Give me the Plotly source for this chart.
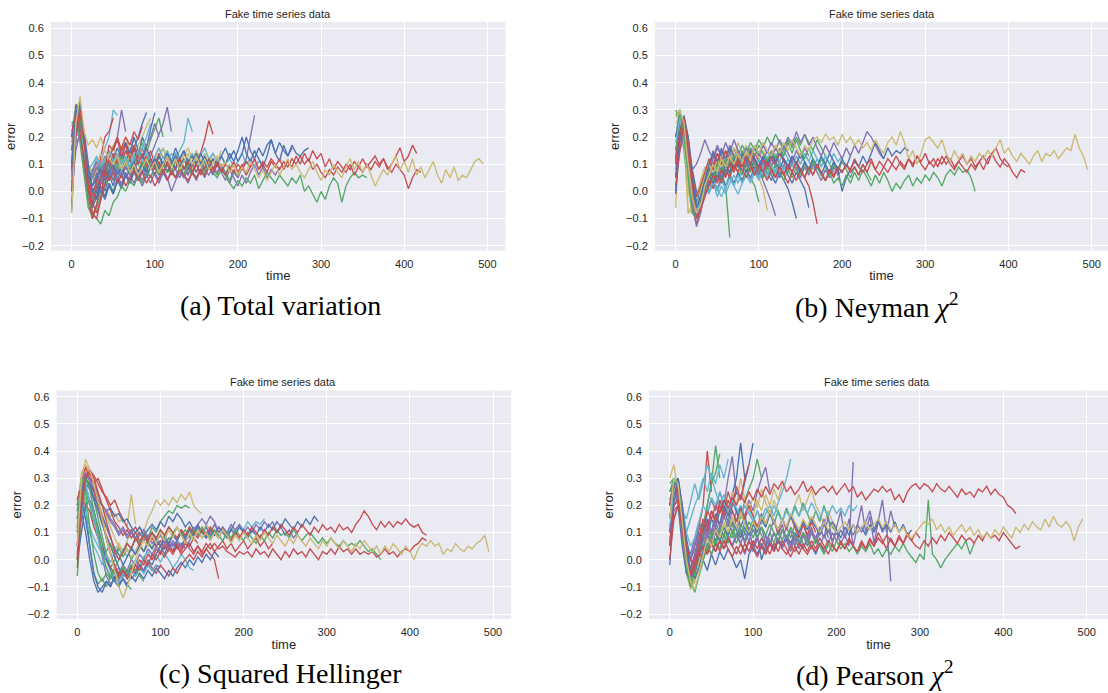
import plotly.graph_objects as go

STEP = 5  # time units between consecutive samples
PALETTE = {"b": "#4C72B0", "g": "#55A868", "r": "#C44E52",
           "p": "#8172B2", "y": "#CCB974", "c": "#64B5CD"}

TITLE = "Fake time series data"
X_LABEL = "time"
Y_LABEL = "error"
CAPTIONS = ["(a) Total variation", "(b) Neyman <i>χ</i><sup>2</sup>",
            "(c) Squared Hellinger", "(d) Pearson <i>χ</i><sup>2</sup>"]
X_TICKS = [0, 100, 200, 300, 400, 500]
Y_TICKS = [-0.2, -0.1, 0.0, 0.1, 0.2, 0.3, 0.4, 0.5, 0.6]

# ---------------- panel (a) Total variation ----------------
a01 = [-0.07, 0.22, 0.33, 0.2, 0.05, 0.0, 0.03, 0.08, 0.05, 0.11, 0.09, 0.14, 0.1, 0.15, 0.12, 0.17, 0.13, 0.2, 0.16, 0.23, 0.29]
a02 = [0.25, 0.27, 0.2, 0.1, 0.0, -0.08, -0.1, -0.12, -0.07, -0.09, -0.04, -0.02, 0.02, 0.0, 0.04, 0.02, 0.06, 0.03, 0.07, 0.05, 0.09, 0.06, 0.1, 0.07, 0.08, 0.05, 0.09, 0.06, 0.1, 0.07, 0.05, 0.08, 0.06, 0.09, 0.07, 0.05, 0.08, 0.06, 0.03, 0.01, 0.04, 0.02, 0.05, 0.03, 0.06, 0.01, 0.04, 0.07, 0.05, 0.03, 0.06, 0.04, 0.02, 0.05, 0.03, 0.06, 0.0, 0.02, -0.01, -0.04, 0.0, -0.03, 0.02, 0.05, 0.03, -0.04, 0.02, 0.05, 0.07, 0.05, 0.06, 0.05]
a03 = [0.0, 0.2, 0.3, 0.18, 0.02, -0.08, -0.1, -0.03, 0.08, 0.17, 0.15, 0.19, 0.13, 0.17, 0.12, 0.16, 0.1, 0.14, 0.09, 0.12, 0.08, 0.11, 0.07, 0.1, 0.06, 0.09, 0.12, 0.08, 0.11, 0.07, 0.1, 0.06, 0.09, 0.12, 0.08, 0.11, 0.07, 0.1, 0.08, 0.11, 0.07, 0.1, 0.06, 0.09, 0.12, 0.08, 0.1, 0.07, 0.11, 0.09, 0.12, 0.08, 0.11, 0.09, 0.13, 0.1, 0.14, 0.11, 0.15, 0.12, 0.14, 0.09, 0.12, 0.08, 0.11, 0.09, 0.07, 0.1, 0.06, 0.09, 0.07, 0.1, 0.08, 0.11, 0.09, 0.12, 0.08, 0.1, 0.13, 0.16, 0.11, 0.13, 0.17, 0.14]
a04 = [-0.08, 0.25, 0.35, 0.22, 0.17, 0.19, 0.16, 0.2, 0.15, 0.12, 0.1, 0.13, 0.08, 0.11, 0.07, 0.1, 0.06, 0.09, 0.12, 0.08, 0.11, 0.07, 0.1, 0.13, 0.09, 0.12, 0.08, 0.11, 0.14, 0.1, 0.13, 0.09, 0.12, 0.08, 0.1, 0.13, 0.09, 0.11, 0.07, 0.1, 0.06, 0.09, 0.07, 0.11, 0.08, 0.05, 0.08, 0.04, 0.07, 0.1, 0.06, 0.09, 0.12, 0.08, 0.1, 0.07, 0.05, 0.08, 0.11, 0.07, 0.04, 0.08, 0.06, 0.1, 0.07, 0.05, 0.09, 0.12, 0.08, 0.11, 0.07, 0.1, 0.06, 0.02, 0.05, 0.08, 0.06, 0.1, 0.13, 0.08, 0.11, 0.07, 0.12, 0.06, 0.09, 0.05, 0.08, 0.11, 0.06, 0.03, 0.08, 0.05, 0.09, 0.04, 0.06, 0.05, 0.08, 0.11, 0.12, 0.1]
a05 = [0.22, 0.28, 0.22, 0.1, 0.0, -0.05, 0.02, 0.05, 0.08, 0.04, 0.07, 0.03, 0.06, 0.02, 0.05, 0.08, 0.04, 0.07, 0.03, 0.06, 0.02, 0.05, 0.08, 0.04, 0.07, 0.05, 0.08, 0.06, 0.04, 0.07, 0.05, 0.08, 0.06, 0.09, 0.07, 0.1, 0.08, 0.06, 0.09, 0.07, 0.1, 0.08, 0.11, 0.09, 0.12, 0.08, 0.11, 0.09, 0.12, 0.1, 0.08, 0.11, 0.09, 0.12, 0.1, 0.13, 0.1, 0.12, 0.08, 0.1, 0.07, 0.05, 0.08, 0.06, 0.09, 0.07, 0.1, 0.08, 0.11, 0.09, 0.12, 0.09, 0.11, 0.13, 0.1, 0.12, 0.09, 0.07, 0.1, 0.08, 0.06, 0.01, 0.05, 0.08, 0.07]
a06 = [0.1, 0.28, 0.32, 0.2, 0.06, 0.02, 0.05, 0.08, 0.04, 0.07, 0.1, 0.06, 0.09, 0.05, 0.08, 0.11, 0.07, 0.1, 0.06, 0.09, 0.12, 0.08, 0.11, 0.07, 0.1, 0.13, 0.09, 0.12, 0.08, 0.11, 0.14, 0.1, 0.13, 0.09, 0.12, 0.1, 0.13, 0.16, 0.12, 0.15, 0.11, 0.14, 0.2, 0.15, 0.12, 0.16, 0.13, 0.17, 0.19, 0.14, 0.18, 0.15, 0.13, 0.17, 0.14, 0.13, 0.15, 0.16]
a07 = [0.15, 0.25, 0.3, 0.18, 0.08, 0.05, 0.09, 0.06, 0.1, 0.07, 0.04, 0.08, 0.05, 0.09, 0.06, 0.03, 0.07, 0.04, 0.08, 0.05, 0.09, 0.06, 0.1, 0.07, 0.11, 0.08, 0.05, 0.09, 0.06, 0.1, 0.07, 0.11, 0.08, 0.06, 0.09, 0.07, 0.1, 0.06, 0.03, 0.07, 0.05, 0.09, 0.12, 0.2, 0.28]
a08 = [0.05, 0.25, 0.28, 0.15, 0.05, -0.02, 0.04, 0.1, 0.07, 0.12, 0.08, 0.13, 0.1, 0.15, 0.11, 0.08, 0.12, 0.09, 0.13, 0.1, 0.06, 0.1, 0.07, 0.11, 0.08, 0.05, 0.09, 0.06, 0.1, 0.07, 0.11, 0.14, 0.19, 0.26, 0.21]
a09 = [0.18, 0.3, 0.28, 0.12, 0.04, 0.06, 0.1, 0.07, 0.12, 0.09, 0.14, 0.1, 0.15, 0.12, 0.09, 0.13, 0.1, 0.14, 0.11, 0.08, 0.12, 0.09, 0.13, 0.1, 0.14, 0.12, 0.15, 0.18, 0.27, 0.22]
a10 = [0.12, 0.22, 0.25, 0.12, 0.03, 0.06, 0.09, 0.05, 0.08, 0.11, 0.07, 0.1, 0.06, 0.09, 0.12, 0.08, 0.11, 0.14, 0.1, 0.13, 0.17, 0.21, 0.25, 0.31, 0.22]
a11 = [0.05, 0.3, 0.33, 0.15, 0.02, -0.02, 0.03, 0.0, -0.03, 0.02, -0.01, 0.04, 0.08, 0.12, 0.09, 0.16, 0.2, 0.25, 0.29]
a12 = [0.2, 0.28, 0.25, 0.1, 0.05, 0.08, 0.12, 0.1, 0.16, 0.2, 0.3, 0.28]
a13 = [0.08, 0.2, 0.27, 0.12, 0.05, 0.02, 0.07, 0.1, 0.06, 0.13, 0.16, 0.2, 0.3, 0.22]
a14 = [0.0, 0.22, 0.3, 0.12, -0.02, -0.05, 0.05, 0.12, 0.2, 0.22, 0.27]
a15 = [0.24, 0.27, 0.25, 0.12, 0.03, 0.06, 0.02, 0.07, 0.1, 0.05, 0.09, 0.12, 0.08, 0.11, 0.15, 0.1, 0.14, 0.18, 0.14, 0.19, 0.23, 0.27, 0.2]
a16 = [0.1, 0.3, 0.28, 0.16, 0.06, 0.02, 0.05, 0.03, 0.07, 0.1, 0.06, 0.09, 0.13, 0.1, 0.15, 0.12, 0.17, 0.2, 0.24, 0.27]
a17 = [0.15, 0.23, 0.22, 0.08, -0.05, -0.1, -0.06, -0.02, 0.03, 0.07, 0.04, 0.09, 0.12, 0.08, 0.13, 0.1, 0.14, 0.11, 0.08, 0.12, 0.09, 0.13, 0.16, 0.12, 0.1, 0.14, 0.11, 0.08, 0.12, 0.09, 0.13, 0.1, 0.07, 0.11, 0.08, 0.12, 0.09, 0.06, 0.1]
a18 = [-0.05, 0.2, 0.3, 0.22, 0.1, 0.0, -0.03, 0.02, -0.02, 0.03, -0.01, 0.04, 0.01, 0.06, 0.03, 0.08, 0.05, 0.1, 0.07, 0.12, 0.09, 0.13, 0.1, 0.14, 0.11, 0.08, 0.12, 0.15, 0.11, 0.13, 0.1, 0.14, 0.11, 0.08, 0.12, 0.09, 0.13, 0.1, 0.14, 0.11, 0.15, 0.2, 0.14, 0.11, 0.15, 0.12, 0.09, 0.13, 0.19, 0.14, 0.11, 0.17, 0.13, 0.16]
a19 = [0.2, 0.32, 0.3, 0.18, 0.1, 0.06, 0.1, 0.14, 0.09, 0.13, 0.17, 0.12, 0.16, 0.2, 0.15, 0.11, 0.14, 0.1, 0.13, 0.09, 0.12, 0.16, 0.12, 0.15, 0.11, 0.14, 0.1, 0.13, 0.16, 0.12, 0.15, 0.11, 0.14, 0.1]
a20 = [0.03, 0.18, 0.2, 0.1, 0.05, 0.08, 0.06, 0.1, 0.07, 0.04, 0.08, 0.05, 0.03, 0.07, 0.04, 0.08, 0.05, 0.02, 0.06, 0.03, 0.07, 0.04, 0.08, 0.05, 0.0, 0.04, 0.07, 0.05, 0.08]
a21 = [0.12, 0.2, 0.22, 0.15, 0.08, 0.1, 0.13, 0.09, 0.12, 0.15, 0.11, 0.14, 0.1, 0.13, 0.09, 0.12, 0.15, 0.11, 0.14, 0.1, 0.13, 0.16, 0.12, 0.15, 0.11, 0.14, 0.12, 0.15, 0.11, 0.14, 0.1, 0.13, 0.16, 0.12, 0.14, 0.11, 0.13, 0.1, 0.12, 0.09, 0.11, 0.14, 0.1, 0.12, 0.09, 0.11, 0.1]
a22 = [0.2, 0.27, 0.18, 0.05, -0.06, -0.09, -0.05, 0.0, -0.02, 0.03, 0.0, 0.05, 0.02, 0.06, 0.03]
a23 = [0.1, 0.32, 0.3, 0.12, 0.0, -0.06, -0.02, 0.04, 0.0, 0.06, 0.02, 0.08, 0.05, 0.1, 0.14, 0.2]
a24 = [0.15, 0.3, 0.28, 0.12, -0.02, -0.1, -0.05, 0.03, 0.08, 0.12, 0.16, 0.2, 0.15, 0.18, 0.13, 0.17, 0.12, 0.16, 0.11, 0.15, 0.1, 0.14, 0.09, 0.13, 0.1, 0.14, 0.11]
a25 = [0.05, 0.27, 0.25, 0.1, -0.02, -0.05, 0.0, 0.05, 0.02, 0.07, 0.04, 0.09, 0.06, 0.11, 0.08, 0.13, 0.1, 0.07, 0.11, 0.08, 0.12, 0.09, 0.06, 0.1, 0.07, 0.11, 0.08, 0.12, 0.09, 0.06, 0.1, 0.07, 0.11, 0.08]
a26 = [0.2, 0.28, 0.24, 0.1, 0.03, 0.07, 0.11, 0.08, 0.13, 0.09, 0.14, 0.1, 0.06, 0.1, 0.07, 0.11, 0.15, 0.12, 0.17, 0.2, 0.25, 0.2]
a27 = [0.12, 0.3, 0.27, 0.15, 0.07, 0.04, 0.08, 0.05, 0.1, 0.06, 0.11, 0.08, 0.13, 0.09, 0.14, 0.1, 0.07, 0.11, 0.15, 0.11, 0.08, 0.12, 0.16, 0.12, 0.09, 0.13, 0.1, 0.14, 0.11, 0.08, 0.12, 0.09, 0.13, 0.1, 0.14, 0.11, 0.15]
a28 = [0.05, 0.25, 0.3, 0.15, 0.02, -0.03, 0.02, 0.06, 0.03, 0.08, 0.05, 0.1, 0.07, 0.12, 0.09, 0.14, 0.11, 0.16, 0.2, 0.25]
a29 = [0.2, 0.3, 0.27, 0.1, 0.0, -0.04, 0.0, 0.05, 0.1, 0.06, 0.12, 0.16, 0.12, 0.18, 0.14, 0.2, 0.15, 0.12, 0.16, 0.12, 0.09, 0.13, 0.1, 0.14, 0.11, 0.16, 0.12, 0.15, 0.1]
a30 = [0.08, 0.26, 0.29, 0.16, 0.04, -0.04, -0.08, -0.03, 0.03, 0.08, 0.14, 0.1, 0.16, 0.2, 0.17, 0.22, 0.19, 0.24]
a31 = [0.1, 0.25, 0.28, 0.12, 0.02, 0.05, 0.09, 0.06, 0.11, 0.07, 0.12, 0.08, 0.13, 0.1, 0.06, 0.1, 0.07, 0.11, 0.08, 0.12, 0.09, 0.13, 0.1, 0.07, 0.11, 0.08, 0.12, 0.09, 0.06, 0.1, 0.07, 0.11, 0.08, 0.12, 0.09, 0.06, 0.1, 0.07, 0.04, 0.08, 0.05, 0.09, 0.06]
a32 = [0.0, 0.15, 0.22, 0.12, 0.05, 0.02, 0.06, 0.03, 0.07, 0.04, 0.08, 0.05, 0.02, 0.06, 0.03, 0.07, 0.04, 0.08, 0.05, 0.09, 0.06, 0.03, 0.07, 0.04, 0.08, 0.05, 0.09, 0.06, 0.03, 0.07, 0.04, 0.08, 0.05, 0.09, 0.06, 0.1, 0.07, 0.04, 0.08, 0.05, 0.02, 0.06, 0.03, 0.07, 0.1, 0.06, 0.09, 0.05, 0.08, 0.06, 0.09]

# ---------------- panel (b) Neyman chi^2 ----------------
b01 = [0.27, 0.3, 0.25, 0.1, -0.02, -0.08, -0.05, 0.02, 0.06, 0.1, 0.07, 0.12, 0.09, 0.13, 0.1, 0.14, 0.11, 0.15, 0.12, 0.17, 0.14, 0.18, 0.15, 0.13, 0.17, 0.14, 0.18, 0.15, 0.19, 0.16, 0.13, 0.17, 0.15, 0.19, 0.2, 0.18, 0.21, 0.19, 0.2, 0.17, 0.21, 0.18, 0.2, 0.17, 0.19, 0.16, 0.18, 0.15, 0.19, 0.16, 0.14, 0.18, 0.2, 0.17, 0.22, 0.18, 0.12, 0.15, 0.1, 0.14, 0.19, 0.2, 0.18, 0.16, 0.19, 0.14, 0.11, 0.15, 0.12, 0.14, 0.1, 0.13, 0.11, 0.14, 0.12, 0.15, 0.13, 0.16, 0.19, 0.14, 0.16, 0.13, 0.11, 0.14, 0.12, 0.1, 0.13, 0.15, 0.11, 0.14, 0.13, 0.15, 0.12, 0.14, 0.16, 0.15, 0.21, 0.16, 0.13, 0.08]
b02 = [0.02, 0.15, 0.25, 0.12, 0.0, -0.1, -0.06, -0.02, 0.02, 0.06, 0.03, 0.08, 0.05, 0.1, 0.07, 0.11, 0.08, 0.05, 0.09, 0.06, 0.1, 0.07, 0.04, 0.08, 0.05, 0.09, 0.06, 0.03, 0.07, 0.04, 0.08, 0.05, 0.09, 0.06, 0.1, 0.07, 0.04, 0.08, 0.06, 0.09, 0.07, 0.1, 0.07, 0.09, 0.06, 0.1, 0.07, 0.11, 0.08, 0.06, 0.09, 0.07, 0.1, 0.08, 0.11, 0.09, 0.12, 0.09, 0.13, 0.1, 0.08, 0.11, 0.09, 0.12, 0.1, 0.13, 0.1, 0.08, 0.11, 0.09, 0.07, 0.1, 0.08, 0.11, 0.13, 0.1, 0.14, 0.11, 0.09, 0.12, 0.1, 0.07, 0.05, 0.08, 0.07]
b03 = [0.28, 0.3, 0.2, 0.05, -0.08, -0.1, -0.04, 0.02, 0.07, 0.04, 0.1, 0.07, 0.12, 0.09, 0.13, 0.1, 0.15, 0.12, 0.16, 0.13, 0.17, 0.14, 0.11, 0.15, 0.12, 0.16, 0.13, 0.18, 0.14, 0.19, 0.15, 0.12, 0.16, 0.12, 0.09, 0.06, 0.04, 0.07, 0.03, 0.05, 0.02, 0.06, 0.03, 0.07, 0.04, 0.08, 0.05, 0.02, 0.06, 0.03, 0.07, 0.04, 0.0, 0.03, 0.01, 0.04, 0.06, 0.02, 0.05, 0.03, 0.06, 0.04, 0.07, 0.05, 0.02, 0.06, 0.08, 0.06, 0.09, 0.07, 0.08, 0.05, 0.0]
b04 = [0.1, 0.22, 0.27, 0.18, 0.06, -0.02, 0.02, 0.07, 0.12, 0.08, 0.14, 0.1, 0.15, 0.11, 0.08, 0.12, 0.09, 0.13, 0.1, 0.06, 0.1, 0.07, 0.11, 0.08, 0.05, 0.09, 0.06, 0.1, 0.07, 0.11, 0.08, 0.05, 0.09, 0.06, 0.1, 0.07, 0.04, 0.08, 0.05, 0.09, 0.07, 0.1, 0.08, 0.12, 0.09, 0.07, 0.1, 0.12, 0.08, 0.11, 0.09, 0.12, 0.1, 0.13, 0.1, 0.08, 0.12, 0.1, 0.13, 0.11, 0.14, 0.1, 0.12, 0.09, 0.13, 0.1, 0.12, 0.09, 0.11, 0.13, 0.1, 0.12, 0.09, 0.11, 0.08, 0.12, 0.14, 0.16, 0.12, 0.1, 0.09]
b05 = [0.0, 0.2, 0.28, 0.2, 0.08, 0.0, -0.04, 0.02, 0.06, 0.03, 0.08, 0.05, 0.1, 0.07, 0.12, 0.09, 0.14, 0.11, 0.16, 0.12, 0.09, 0.13, 0.1, 0.14, 0.11, 0.08, 0.12, 0.09, 0.13, 0.1, 0.07, 0.11, 0.08, 0.12, 0.09, 0.06, 0.1, 0.07, 0.11, 0.08, 0.0, 0.05, 0.08, 0.11, 0.09, 0.13, 0.1, 0.14, 0.18, 0.15, 0.12, 0.16, 0.13, 0.15, 0.14, 0.16, 0.15]
b06 = [0.08, 0.2, 0.22, 0.12, -0.05, -0.13, -0.08, 0.0, 0.06, 0.1, 0.07, 0.12, 0.09, 0.13, 0.1, 0.14, 0.11, 0.15, 0.12, 0.16, 0.13, 0.17, 0.14, 0.18, 0.15, 0.19, 0.16, 0.2, 0.17, 0.22, 0.18, 0.21, 0.17, 0.2, 0.16, 0.13, 0.17, 0.14, 0.18, 0.15, 0.12, 0.16, 0.13, 0.17, 0.14, 0.18, 0.22, 0.2, 0.17, 0.14, 0.12]
b07 = [0.2, 0.3, 0.22, 0.08, -0.02, -0.05, 0.0, 0.04, 0.08, 0.05, 0.1, 0.07, 0.02, -0.17]
b08 = [-0.06, 0.25, 0.2, -0.08, -0.05, -0.02, 0.03, 0.07, 0.04, 0.09, 0.06, 0.11, 0.08, 0.13, 0.1, 0.14, 0.11, 0.08, 0.12, 0.09, 0.05, 0.01, -0.07]
b09 = [0.12, 0.24, 0.26, 0.12, 0.02, -0.06, -0.02, 0.04, 0.1, 0.15, 0.11, 0.16, 0.12, 0.17, 0.13, 0.1, 0.14, 0.11, 0.15, 0.12, 0.08, 0.04, 0.0, -0.04, -0.09]
b10 = [-0.01, 0.18, 0.27, 0.2, 0.06, -0.04, -0.01, 0.04, 0.08, 0.05, 0.1, 0.07, 0.12, 0.09, 0.13, 0.1, 0.07, 0.11, 0.08, 0.12, 0.09, 0.05, 0.09, 0.06, 0.03, 0.07, 0.04, 0.01, -0.04, -0.1]
b11 = [0.1, 0.24, 0.26, 0.14, 0.02, -0.08, -0.03, 0.02, 0.0, 0.04, 0.01, 0.05, 0.02, 0.06, 0.03, 0.07, 0.04, 0.08, 0.05, 0.09, 0.06, 0.1, 0.07, 0.04, 0.08, 0.05, 0.09, 0.06, 0.03, 0.07, 0.04, 0.01, -0.06]
b12 = [0.2, 0.26, 0.2, 0.08, -0.06, -0.12, -0.06, 0.0, 0.05, 0.1, 0.14, 0.1, 0.15, 0.11, 0.16, 0.12, 0.09, 0.13, 0.1, 0.14, 0.11, 0.08, 0.12, 0.09, 0.13, 0.1, 0.06, 0.1, 0.07, 0.11, 0.08, 0.05, 0.02, -0.04, -0.12]
b13 = [0.1, 0.22, 0.24, 0.1, -0.03, -0.09, -0.05, 0.01, 0.05, 0.02, 0.07, 0.04, 0.09, 0.06, 0.1, 0.07, 0.04, 0.08, 0.05, 0.02, -0.04]
b14 = [0.15, 0.25, 0.22, 0.1, -0.02, -0.06, -0.01, 0.03, 0.0, 0.04, -0.02, 0.02, -0.01, 0.03, 0.06, 0.03, 0.08, 0.05, 0.1, 0.07, 0.12, 0.09, 0.13, 0.1, 0.14, 0.11, 0.15, 0.12, 0.09, 0.13, 0.1, 0.14, 0.11, 0.08, 0.12, 0.09, 0.13]
b15 = [0.05, 0.15, 0.2, 0.15, 0.08, 0.1, 0.14, 0.19, 0.15, 0.12, 0.16, 0.13, 0.1, 0.14, 0.11, 0.15, 0.12, 0.09, 0.13, 0.1, 0.07, 0.11, 0.08, 0.12, 0.09, 0.06, 0.1, 0.07, 0.11, 0.08, 0.05, 0.09, 0.06, 0.1, 0.07, 0.04, 0.08, 0.05, 0.09, 0.06, 0.08]
b16 = [0.25, 0.28, 0.2, -0.08, -0.07, -0.02, 0.04, 0.09, 0.06, 0.11, 0.08, 0.13, 0.1, 0.15, 0.12, 0.18, 0.14, 0.17, 0.13, 0.16, 0.12, 0.15, 0.11, 0.14, 0.1]
b17 = [0.3, 0.26, 0.15, 0.02, -0.08, -0.05, 0.01, 0.05, 0.1, 0.07, 0.12, 0.09, 0.14, 0.11, 0.16, 0.13, 0.17, 0.14, 0.18, 0.15, 0.19, 0.16, 0.2, 0.17, 0.21, 0.18, 0.15, 0.19, 0.16, 0.2, 0.17, 0.21, 0.18, 0.15, 0.19, 0.16, 0.13, 0.1, 0.07]
b18 = [0.15, 0.22, 0.18, 0.06, -0.05, -0.1, -0.04, 0.03, 0.08, 0.14, 0.1, 0.15, 0.12]
b19 = [0.1, 0.25, 0.24, 0.1, -0.03, -0.08, -0.03, 0.02, -0.01, 0.03, 0.0, 0.04, 0.01, 0.05, 0.02, -0.01, 0.03, 0.06, 0.03, 0.07, 0.04, 0.08, 0.05, 0.09, 0.06, 0.1, 0.07]
b20 = [0.05, 0.2, 0.25, 0.15, 0.02, -0.1, -0.07, 0.0, 0.07, 0.12, 0.17, 0.13, 0.18, 0.14, 0.19, 0.15, 0.12, 0.16, 0.13, 0.17, 0.14, 0.11, 0.15, 0.12, 0.16, 0.13, 0.17, 0.14, 0.11, 0.15, 0.12, 0.16, 0.13]
b21 = [0.12, 0.28, 0.26, 0.14, 0.0, -0.1, -0.07, -0.02, 0.04, 0.01, 0.06, 0.03, 0.08, 0.05, 0.1, 0.07, 0.12, 0.09, 0.14, 0.11, 0.08, 0.12, 0.09, 0.13, 0.1, 0.14, 0.11, 0.08, 0.12]
b22 = [0.2, 0.28, 0.24, 0.12, 0.0, -0.06, -0.01, 0.05, 0.02, 0.07, 0.04, 0.09, 0.06, 0.11, 0.08, 0.13, 0.1, 0.07, 0.11, 0.08, 0.05]
b23 = [0.15, 0.28, 0.22, 0.08, -0.04, -0.1, -0.05, 0.01, 0.06, 0.03, 0.08, 0.05, 0.1, 0.07, 0.12, 0.09, 0.06, 0.1, 0.07, 0.11, 0.08, 0.05, 0.09, 0.06, 0.1, 0.07, 0.04, 0.08, 0.05, 0.09, 0.06, 0.1, 0.07, 0.11, 0.08, 0.12, 0.09, 0.06, 0.1, 0.07, 0.11, 0.08, 0.05, 0.09, 0.06, 0.1, 0.07, 0.04]
b24 = [0.28, 0.3, 0.18, 0.0, -0.08, -0.06, 0.0, 0.05, 0.1, 0.07, 0.12, 0.09, 0.14, 0.11, 0.16, 0.13, 0.1, 0.14, 0.11]
b25 = [0.18, 0.27, 0.2, 0.06, -0.05, -0.1, -0.04, 0.02, 0.0, 0.04, 0.01, -0.02, 0.02, 0.05, 0.02, 0.06, 0.03, 0.07, 0.04, 0.08, 0.05, 0.09, 0.06, 0.1, 0.07, 0.11, 0.08, 0.12, 0.09, 0.13, 0.1, 0.14, 0.11, 0.15, 0.12, 0.09, 0.13, 0.1, 0.14, 0.11, 0.13]
b26 = [0.05, 0.22, 0.27, 0.18, 0.05, -0.06, -0.02, 0.04, 0.1, 0.14, 0.11, 0.15, 0.12, 0.16, 0.13, 0.1, 0.14, 0.11, 0.15, 0.12, 0.09, 0.13, 0.1, 0.14, 0.11, 0.15, 0.12, 0.09, 0.13, 0.1, 0.14, 0.11, 0.08, 0.12, 0.09, 0.13, 0.1, 0.14, 0.11, 0.08, 0.12, 0.09, 0.13]

# ---------------- panel (c) Squared Hellinger ----------------
c01 = [0.05, 0.3, 0.37, 0.33, 0.28, 0.22, 0.15, 0.08, 0.02, -0.05, -0.1, -0.14, -0.1, -0.05, 0.0, 0.04, 0.07, 0.05, 0.09, 0.06, 0.1, 0.07, 0.11, 0.08, 0.12, 0.09, 0.06, 0.1, 0.07, 0.11, 0.08, 0.1, 0.07, 0.1, 0.08, 0.11, 0.09, 0.06, 0.09, 0.07, 0.1, 0.08, 0.06, 0.09, 0.07, 0.1, 0.08, 0.06, 0.09, 0.07, 0.05, 0.08, 0.06, 0.09, 0.07, 0.05, 0.08, 0.06, 0.04, 0.07, 0.05, 0.08, 0.06, 0.04, 0.07, 0.05, 0.03, 0.06, 0.04, 0.07, 0.05, 0.03, 0.05, 0.02, 0.05, 0.03, 0.06, 0.04, 0.02, 0.05, 0.03, 0.0, 0.04, 0.06, 0.05, 0.07, 0.05, 0.06, 0.02, 0.04, 0.03, 0.06, 0.04, 0.03, 0.05, 0.04, 0.06, 0.07, 0.09, 0.03]
c02 = [0.0, 0.22, 0.3, 0.33, 0.3, 0.25, 0.2, 0.14, 0.08, 0.03, 0.0, 0.03, 0.06, 0.04, 0.08, 0.05, 0.09, 0.07, 0.1, 0.08, 0.11, 0.09, 0.12, 0.1, 0.08, 0.11, 0.09, 0.12, 0.1, 0.08, 0.11, 0.09, 0.12, 0.1, 0.08, 0.11, 0.09, 0.07, 0.1, 0.08, 0.11, 0.09, 0.12, 0.1, 0.08, 0.11, 0.09, 0.12, 0.1, 0.13, 0.11, 0.09, 0.12, 0.1, 0.13, 0.11, 0.09, 0.12, 0.1, 0.13, 0.11, 0.12, 0.1, 0.13, 0.11, 0.12, 0.1, 0.13, 0.15, 0.18, 0.16, 0.13, 0.11, 0.14, 0.12, 0.14, 0.12, 0.14, 0.13, 0.15, 0.13, 0.12, 0.13, 0.1, 0.09]
c03 = [-0.03, 0.2, 0.3, 0.32, 0.28, 0.22, 0.15, 0.08, 0.02, -0.03, -0.06, -0.04, -0.07, -0.05, -0.02, -0.04, 0.0, -0.02, 0.02, 0.0, 0.03, 0.01, 0.04, 0.02, 0.05, 0.03, 0.06, 0.04, 0.02, 0.05, 0.03, 0.06, 0.04, 0.06, 0.04, 0.05, 0.03, 0.02, 0.01, 0.03, 0.02, 0.03, 0.01, 0.04, 0.02, 0.03, 0.01, 0.04, 0.02, 0.0, 0.03, 0.01, 0.04, 0.02, 0.03, 0.01, 0.04, 0.02, 0.0, 0.03, 0.02, 0.04, 0.02, 0.05, 0.03, 0.04, 0.02, 0.04, 0.02, 0.03, 0.02, 0.03, 0.01, 0.02, 0.04, 0.02, 0.03, 0.01, 0.03, 0.04, 0.03, 0.05, 0.06, 0.08, 0.07]
c04 = [0.15, 0.28, 0.3, 0.26, 0.18, 0.1, 0.03, -0.03, -0.06, -0.03, 0.0, 0.03, 0.06, 0.04, 0.08, 0.06, 0.09, 0.07, 0.1, 0.08, 0.11, 0.09, 0.12, 0.1, 0.12, 0.09, 0.11, 0.08, 0.11, 0.09, 0.12, 0.1, 0.08, 0.11, 0.09, 0.07, 0.1, 0.08, 0.11, 0.09, 0.07, 0.1, 0.08, 0.06, 0.09, 0.07, 0.1, 0.08, 0.11, 0.09, 0.1, 0.08, 0.11, 0.09, 0.07, 0.09, 0.1, 0.08, 0.06, 0.08, 0.06, 0.08, 0.06, 0.05, 0.07, 0.05, 0.06, 0.05, 0.07, 0.05, 0.03, 0.04, 0.02, 0.0]
c05 = [0.18, 0.25, 0.3, 0.27, 0.23, 0.2, 0.16, 0.12, 0.08, 0.04, 0.02, -0.02, 0.01, 0.04, 0.02, 0.05, 0.03, 0.06, 0.04, 0.07, 0.05, 0.08, 0.06, 0.09, 0.07, 0.1, 0.08, 0.11, 0.09, 0.12, 0.1, 0.08, 0.11, 0.09, 0.12, 0.1, 0.08, 0.11, 0.09, 0.12, 0.1, 0.08, 0.11, 0.09, 0.12, 0.1, 0.13, 0.11, 0.14, 0.12, 0.15, 0.13, 0.11, 0.14, 0.12, 0.15, 0.13, 0.16, 0.14]
c06 = [0.1, 0.2, 0.15, 0.1, 0.05, 0.02, -0.02, 0.02, -0.01, 0.03, 0.0, 0.04, 0.01, 0.05, 0.02, 0.06, 0.03, 0.07, 0.04, 0.08, 0.05, 0.09, 0.06, 0.1, 0.07, 0.11, 0.08, 0.12, 0.09, 0.11, 0.08, 0.1, 0.07, 0.1, 0.08, 0.11, 0.09, 0.12, 0.1, 0.13, 0.11, 0.14, 0.12, 0.14, 0.13, 0.15]
c07 = [0.1, 0.3, 0.33, 0.3, 0.26, 0.22, 0.17, 0.12, 0.08, 0.04, 0.06, 0.03, 0.07, 0.1, 0.08, 0.12, 0.1, 0.15, 0.18, 0.22, 0.2, 0.22, 0.2, 0.23, 0.21, 0.24, 0.22, 0.25, 0.2, 0.18, 0.17]
c08 = [-0.06, 0.15, 0.3, 0.28, 0.22, 0.15, 0.08, 0.02, -0.03, 0.0, 0.04, 0.02, 0.06, 0.04, 0.08, 0.06, 0.1, 0.08, 0.12, 0.1, 0.14, 0.16, 0.18, 0.17, 0.2, 0.19, 0.2, 0.19]
c09 = [0.05, 0.25, 0.3, 0.27, 0.25, 0.22, 0.2, 0.18, 0.16, 0.17, 0.14, 0.15, 0.12, 0.24, 0.13]
c10 = [0.2, 0.22, 0.2, 0.18, 0.12, 0.08, 0.04, 0.0, -0.03, -0.05, -0.07, -0.04, -0.06, -0.03, -0.05, -0.02, -0.04, -0.01, -0.03, -0.05, -0.02, -0.04, -0.06, -0.03, -0.05, -0.02, 0.0, 0.02, 0.0, 0.03, 0.01, 0.04, 0.02, 0.0, -0.07]
c11 = [0.05, 0.25, 0.32, 0.3, 0.28, 0.24, 0.2, 0.18, 0.15, 0.13, 0.1, 0.12, 0.09, 0.11, 0.08, 0.1, 0.07, 0.09, 0.06, 0.08, 0.05, 0.07, 0.04, 0.06, 0.04, 0.06, 0.04, 0.07, 0.1, 0.13, 0.15, 0.13, 0.16, 0.14, 0.1, 0.12, 0.1, 0.13, 0.11, 0.13, 0.1, 0.12, 0.1, 0.13, 0.11, 0.14, 0.12, 0.14, 0.1, 0.12, 0.09, 0.11, 0.08, 0.1]
c12 = [0.12, 0.18, 0.1, 0.0, -0.08, -0.12, -0.1, -0.08, -0.1, -0.06, -0.08, -0.05, -0.07, -0.04, -0.06, -0.03, -0.05, -0.02, -0.04, -0.02, -0.03]
c13 = [0.12, 0.3, 0.2, 0.05, -0.05, -0.09, -0.07, -0.1, -0.06, -0.08, -0.05, -0.07, -0.09, -0.11]
c14 = [0.02, 0.2, 0.27, 0.22, 0.15, 0.08, 0.0, -0.06, -0.09, -0.07, -0.05, -0.02, -0.04, 0.0, -0.02, 0.02, 0.0, 0.04, 0.02, 0.05, 0.03, 0.06, 0.04, 0.07, 0.05]
c15 = [0.22, 0.28, 0.34, 0.33, 0.31, 0.28, 0.25, 0.23, 0.2, 0.22, 0.18, 0.15, 0.12, 0.1, 0.12, 0.09, 0.11, 0.08, 0.1, 0.07, 0.05, 0.08, 0.05, 0.03, 0.06, 0.04, 0.07, 0.05, 0.08, 0.06]
c16 = [0.18, 0.22, 0.18, 0.12, 0.08, 0.05, 0.02, 0.0, -0.03, -0.05, -0.03, -0.06, -0.04, -0.02, 0.0, -0.02, 0.01, 0.03, 0.0, 0.02, -0.01, 0.02, 0.0, -0.03, -0.01, 0.02, 0.0, -0.03, -0.04]
c17 = [0.2, 0.26, 0.29, 0.28, 0.25, 0.22, 0.2, 0.18, 0.19, 0.16, 0.17, 0.14, 0.15, 0.12, 0.1, 0.12, 0.09, 0.11, 0.13, 0.11, 0.14, 0.12, 0.16, 0.14, 0.17, 0.15, 0.12, 0.14, 0.11, 0.13, 0.1, 0.12, 0.09, 0.11]
c18 = [0.0, 0.1, 0.2, 0.22, 0.18, 0.12, 0.06, 0.0, -0.04, -0.08, -0.1, -0.07, -0.09, -0.06, -0.08, -0.05, -0.07, -0.04, -0.06, -0.03, -0.05, -0.07, -0.04, -0.06, -0.03, -0.01, -0.03, 0.0, -0.02, 0.01, -0.01, 0.02, 0.0, 0.03, 0.01]
c19 = [0.2, 0.3, 0.34, 0.3, 0.25, 0.19, 0.13, 0.07, 0.02, -0.02, -0.05, -0.03, -0.06, -0.02, -0.04, 0.0, -0.02, 0.02, 0.0, 0.04, 0.02, 0.05, 0.03]
c20 = [0.1, 0.25, 0.28, 0.26, 0.22, 0.18, 0.13, 0.09, 0.05, 0.01, -0.03, -0.06, -0.04, -0.07, -0.05, -0.02, -0.04, 0.0, -0.02, 0.02, 0.05, 0.02, 0.06, 0.03, 0.07, 0.05, 0.08]
c21 = [0.2, 0.28, 0.25, 0.2, 0.14, 0.1, 0.06, 0.03, 0.06, 0.02, 0.05, 0.01, 0.04, 0.0, 0.03, 0.06, 0.03, 0.07, 0.04, 0.08, 0.05, 0.09, 0.06, 0.1, 0.07, 0.11, 0.08, 0.12, 0.09, 0.12, 0.1]
c22 = [0.15, 0.3, 0.28, 0.22, 0.15, 0.08, 0.02, -0.03, -0.07, -0.05, -0.08, -0.05, -0.07, -0.04, -0.06, -0.03, -0.05, -0.02, -0.04, -0.02]
c23 = [0.15, 0.28, 0.31, 0.29, 0.26, 0.22, 0.2, 0.17, 0.14, 0.12, 0.09, 0.11, 0.08, 0.1, 0.07, 0.09, 0.11, 0.08, 0.1, 0.07, 0.09, 0.06, 0.08, 0.05, 0.07, 0.1, 0.07, 0.09, 0.12, 0.09, 0.11, 0.08, 0.1, 0.13, 0.1, 0.12, 0.09, 0.11, 0.14]
c24 = [0.15, 0.32, 0.35, 0.32, 0.28, 0.24, 0.2, 0.16, 0.12, 0.08, 0.05, 0.02, 0.04, 0.01, 0.03, 0.06, 0.03, 0.06, 0.04, 0.07, 0.05, 0.08, 0.06, 0.09, 0.07, 0.1, 0.08, 0.11, 0.09, 0.12, 0.1, 0.13, 0.11, 0.09, 0.12, 0.1]
c25 = [0.22, 0.27, 0.32, 0.3, 0.28, 0.3, 0.26, 0.22, 0.18, 0.14, 0.12, 0.09, 0.11, 0.08, 0.1, 0.07, 0.09, 0.06, 0.08, 0.05, 0.07, 0.04, 0.06, 0.03, 0.05, 0.02, 0.04, 0.06, 0.03, 0.05, 0.02, 0.04, 0.06, 0.03, 0.05, 0.07, 0.04, 0.06, 0.03, 0.05, 0.07, 0.04, 0.06, 0.08, 0.05, 0.07, 0.04, 0.06]
c26 = [0.05, 0.22, 0.15, 0.05, -0.05, -0.1, -0.12, -0.08, -0.1, -0.06, -0.09, -0.07, -0.1]
c27 = [0.0, 0.3, 0.25, 0.12, 0.02, -0.05, -0.08, -0.05, -0.07, -0.04, -0.06, -0.03, -0.05, -0.02, -0.04, -0.06, -0.08]

# ---------------- panel (d) Pearson chi^2 ----------------
d01 = [0.2, 0.27, 0.25, 0.15, 0.05, 0.0, -0.02, 0.05, 0.12, 0.18, 0.15, 0.2, 0.17, 0.22, 0.19, 0.23, 0.2, 0.24, 0.21, 0.25, 0.22, 0.26, 0.23, 0.27, 0.24, 0.28, 0.26, 0.29, 0.25, 0.27, 0.24, 0.26, 0.29, 0.25, 0.27, 0.24, 0.26, 0.27, 0.25, 0.27, 0.24, 0.26, 0.28, 0.25, 0.27, 0.23, 0.25, 0.22, 0.24, 0.26, 0.25, 0.27, 0.25, 0.26, 0.22, 0.24, 0.21, 0.25, 0.27, 0.28, 0.26, 0.28, 0.27, 0.25, 0.28, 0.26, 0.25, 0.27, 0.25, 0.23, 0.26, 0.24, 0.25, 0.23, 0.26, 0.25, 0.27, 0.24, 0.26, 0.24, 0.23, 0.2, 0.19, 0.17]
d02 = [0.15, 0.3, 0.28, 0.15, 0.0, -0.08, -0.11, -0.05, 0.02, 0.08, 0.05, 0.11, 0.08, 0.13, 0.1, 0.15, 0.12, 0.17, 0.13, 0.1, 0.14, 0.11, 0.16, 0.13, 0.18, 0.14, 0.11, 0.15, 0.12, 0.17, 0.14, 0.11, 0.15, 0.12, 0.16, 0.13, 0.1, 0.14, 0.11, 0.13, 0.1, 0.12, 0.14, 0.11, 0.13, 0.1, 0.12, 0.14, 0.11, 0.13, 0.15, 0.12, 0.14, 0.11, 0.13, 0.1, 0.12, 0.09, 0.08, 0.1, 0.12, 0.14, 0.13, 0.15, 0.11, 0.13, 0.1, 0.12, 0.09, 0.11, 0.13, 0.1, 0.12, 0.09, 0.11, 0.08, 0.1, 0.08, 0.11, 0.09, 0.12, 0.1, 0.08, 0.12, 0.1, 0.13, 0.11, 0.14, 0.12, 0.11, 0.15, 0.12, 0.16, 0.13, 0.12, 0.14, 0.12, 0.07, 0.12, 0.15]
d03 = [0.05, 0.2, 0.22, 0.1, 0.0, -0.06, -0.03, 0.02, 0.05, 0.02, 0.06, 0.03, 0.07, 0.04, 0.08, 0.05, 0.02, 0.06, 0.03, 0.07, 0.04, 0.01, 0.05, 0.02, 0.06, 0.03, 0.07, 0.04, 0.02, 0.05, 0.03, 0.06, 0.04, 0.02, 0.05, 0.03, 0.06, 0.04, 0.07, 0.05, 0.03, 0.06, 0.04, 0.07, 0.05, 0.03, 0.06, 0.04, 0.07, 0.05, 0.08, 0.06, 0.09, 0.07, 0.05, 0.08, 0.06, 0.09, 0.07, 0.05, 0.04, 0.07, 0.05, 0.08, 0.06, 0.09, 0.07, 0.1, 0.08, 0.06, 0.09, 0.07, 0.08, 0.06, 0.09, 0.07, 0.1, 0.08, 0.09, 0.07, 0.1, 0.08, 0.06, 0.04, 0.05]
d04 = [0.25, 0.3, 0.28, 0.15, 0.0, -0.08, -0.12, -0.06, 0.0, 0.05, 0.02, 0.07, 0.04, 0.09, 0.06, 0.11, 0.08, 0.13, 0.1, 0.14, 0.11, 0.08, 0.12, 0.09, 0.13, 0.1, 0.07, 0.11, 0.08, 0.12, 0.09, 0.06, 0.1, 0.07, 0.04, 0.08, 0.05, 0.02, 0.06, 0.03, 0.07, 0.04, 0.06, 0.03, 0.05, 0.02, 0.05, 0.03, 0.06, 0.02, 0.04, 0.01, 0.04, 0.02, 0.05, 0.03, 0.06, 0.03, 0.01, -0.01, 0.02, 0.0, 0.22, 0.02, 0.0, -0.03, 0.0, 0.02, 0.04, 0.06, 0.04, 0.07, 0.02, 0.06]
d05 = [-0.02, 0.22, 0.3, 0.2, 0.05, -0.04, -0.07, -0.03, 0.03, 0.08, 0.05, 0.1, 0.07, 0.12, 0.09, 0.14, 0.11, 0.08, 0.12, 0.09, 0.13, 0.1, 0.15, 0.12, 0.17, 0.14, 0.11, 0.15, 0.12, 0.16, 0.13, 0.1, 0.14, 0.11, 0.15, 0.12, 0.09, 0.13, 0.1, 0.14, 0.11, 0.08, 0.12, 0.09, 0.13, 0.1, 0.12, 0.09, 0.13, 0.1, 0.14, 0.11, 0.13, 0.1, 0.14, 0.1, 0.13, 0.09, 0.11]
d06 = [0.12, 0.25, 0.28, 0.2, 0.1, 0.05, 0.08, 0.14, 0.2, 0.17, 0.23, 0.2, 0.25, 0.21, 0.18, 0.22, 0.19, 0.16, 0.2, 0.17, 0.14, 0.18, 0.15, 0.19, 0.16, 0.2, 0.17, 0.14, 0.18, 0.15, 0.19, 0.16, 0.2, 0.17, 0.21, 0.18, 0.15, 0.19, 0.16, 0.2, 0.17, 0.19, 0.16, 0.2, 0.18, 0.2]
d07 = [0.1, 0.2, 0.22, 0.12, 0.02, -0.03, 0.02, 0.07, 0.04, 0.09, 0.06, 0.03, 0.07, 0.04, 0.08, 0.05, 0.09, 0.06, 0.03, 0.07, 0.04, 0.08, 0.05, 0.02, 0.06, 0.03, 0.07, 0.04, 0.08, 0.05, 0.09, 0.06, 0.1, 0.07, 0.11, 0.08, 0.05, 0.09, 0.06, 0.1, 0.07, 0.11, 0.08, 0.12, 0.09, 0.13, 0.1, 0.14, 0.18, 0.11, 0.15, 0.1, 0.13, -0.08]
d08 = [0.05, 0.18, 0.2, 0.1, 0.03, 0.0, 0.04, 0.01, 0.05, 0.02, 0.06, 0.03, 0.07, 0.04, 0.08, 0.05, 0.09, 0.06, 0.1, 0.07, 0.11, 0.08, 0.12, 0.09, 0.06, 0.1, 0.07, 0.11, 0.08, 0.05, 0.09, 0.06, 0.1, 0.07, 0.04, 0.08, 0.12, 0.08, 0.11, 0.07, 0.1, 0.06, 0.09, 0.05, 0.36]
d09 = [0.15, 0.28, 0.25, 0.12, 0.0, -0.07, -0.04, 0.03, 0.08, 0.05, 0.1, 0.07, 0.12, 0.18, 0.14, 0.2, 0.25, 0.22, 0.28, 0.35, 0.43]
d10 = [0.1, 0.3, 0.28, 0.15, 0.03, -0.06, -0.02, 0.05, 0.12, 0.08, 0.15, 0.12, 0.18, 0.22, 0.16, 0.24, 0.3, 0.43, 0.3]
d11 = [0.28, 0.3, 0.26, 0.12, 0.0, -0.1, -0.08, 0.0, 0.1, 0.2, 0.28, 0.42, 0.3]
d12 = [0.2, 0.25, 0.24, 0.12, 0.02, -0.05, 0.0, 0.12, 0.2, 0.4, 0.25]
d13 = [0.08, 0.15, 0.2, 0.12, 0.05, 0.02, 0.08, 0.14, 0.1, 0.17, 0.22, 0.18, 0.25, 0.2, 0.3, 0.38, 0.24]
d14 = [0.15, 0.22, 0.22, 0.1, -0.05, -0.1, -0.06, 0.0, 0.06, 0.03, 0.09, 0.06, 0.12, 0.09, 0.15, 0.12, 0.18, 0.15, 0.22, 0.26, 0.3, 0.37, 0.3]
d15 = [0.2, 0.3, 0.26, 0.18, 0.15, 0.22, 0.28, 0.22, 0.28, 0.35, 0.3, 0.25, 0.2, 0.24, 0.18, 0.22, 0.17, 0.2, 0.15, 0.19, 0.14, 0.18, 0.13, 0.17, 0.2, 0.16, 0.21, 0.25, 0.3, 0.37]
d16 = [0.05, 0.22, 0.25, 0.15, 0.05, 0.0, 0.05, 0.1, 0.06, 0.12, 0.08, 0.14, 0.1, 0.16, 0.12, 0.18, 0.14, 0.2, 0.16, 0.22, 0.18, 0.25, 0.3, 0.34, 0.25]
d17 = [0.0, 0.15, 0.2, 0.12, 0.0, -0.05, -0.02, 0.03, 0.0, 0.05, 0.02, 0.06, 0.03, 0.07, 0.04, 0.01, 0.05, 0.02, 0.06, 0.03, 0.07, 0.04, 0.08, 0.05, 0.02, 0.06, 0.03, 0.07, 0.04, 0.01, 0.05, 0.02, 0.06, 0.03, 0.07, 0.04, 0.08, 0.05, 0.02, 0.06, 0.03, 0.07, 0.04, 0.08, 0.05, 0.03, 0.07, 0.04, 0.08, 0.05, 0.1, 0.07, 0.04, 0.08, 0.05, 0.09, 0.06, 0.1, 0.07, 0.1, 0.08]
d18 = [0.3, 0.35, 0.25, 0.1, -0.05, -0.11, -0.08, 0.0, 0.08, 0.14, 0.1, 0.17, 0.12, 0.2, 0.16, 0.25, 0.2, 0.3, 0.22, 0.18, 0.23, 0.19, 0.26, 0.21, 0.17, 0.22, 0.18, 0.14, 0.19, 0.15, 0.2, 0.24, 0.18, 0.22, 0.26, 0.2, 0.17, 0.13, 0.18, 0.14, 0.12]
d19 = [0.1, 0.2, 0.22, 0.08, -0.04, -0.1, -0.05, 0.02, 0.07, 0.03, 0.08, 0.05, 0.1, 0.06, 0.11, 0.08, 0.13, 0.09, 0.14, 0.1, 0.15, 0.11, 0.16, 0.12, 0.17, 0.13, 0.18, 0.14, 0.19, 0.15, 0.2, 0.16, 0.21, 0.17, 0.13, 0.18, 0.14, 0.2, 0.15, 0.12, 0.1]
d20 = [0.25, 0.28, 0.2, 0.05, -0.05, -0.07, -0.02, 0.03, 0.0, -0.04, 0.02, -0.02, 0.03, 0.0, 0.04, 0.01, -0.03, 0.0, -0.07, 0.02, 0.05, 0.02, 0.06, 0.03, 0.07, 0.04, 0.08, 0.05, 0.09, 0.06, 0.1, 0.07, 0.04, 0.08, 0.05, 0.02, 0.06, 0.03, 0.05]
d21 = [0.22, 0.28, 0.22, 0.1, 0.0, -0.06, -0.02, 0.06, 0.14, 0.1, 0.18, 0.14, 0.22, 0.18, 0.25, 0.2, 0.27, 0.22, 0.3, 0.35]
d22 = [0.1, 0.28, 0.3, 0.18, 0.1, 0.15, 0.2, 0.24, 0.3, 0.25, 0.32, 0.28, 0.35, 0.3, 0.37]
d23 = [0.2, 0.3, 0.25, 0.1, -0.02, -0.08, -0.04, 0.03, 0.08, 0.04, 0.1, 0.06, 0.12, 0.08, 0.14, 0.1, 0.06, 0.11, 0.07, 0.12, 0.08, 0.13, 0.09, 0.05, 0.1, 0.06, 0.11, 0.07, 0.12, 0.08, 0.13, 0.09, 0.06]
d24 = [0.05, 0.25, 0.3, 0.18, 0.05, -0.04, -0.08, -0.02, 0.05, 0.1, 0.06, 0.12, 0.08, 0.14, 0.1, 0.16, 0.12, 0.18, 0.14, 0.2, 0.16, 0.22, 0.18, 0.24, 0.2, 0.26, 0.22, 0.28]
d25 = [0.2, 0.27, 0.3, 0.2, 0.08, 0.0, -0.05, 0.02, 0.08, 0.15, 0.1, 0.17, 0.13, 0.2, 0.16, 0.22, 0.18, 0.12, 0.16, 0.1, 0.05, 0.09, 0.0, 0.05, 0.08]
d26 = [0.1, 0.22, 0.26, 0.15, 0.05, 0.0, 0.06, 0.12, 0.08, 0.14, 0.1, 0.16, 0.12, 0.18, 0.14, 0.1, 0.15, 0.11, 0.06, 0.1, 0.14, 0.08, 0.12, 0.06, 0.1, 0.15, 0.09, 0.13, 0.07, 0.11, 0.05, 0.1, 0.14, 0.08, 0.12, 0.06, 0.1, 0.15, 0.08]
d27 = [0.05, 0.22, 0.27, 0.15, 0.03, -0.05, 0.0, 0.08, 0.15, 0.12, 0.18, 0.14, 0.2, 0.16, 0.22, 0.18, 0.14, 0.19, 0.15, 0.2, 0.16, 0.12, 0.17, 0.13, 0.18, 0.14, 0.1, 0.15, 0.11, 0.16, 0.12, 0.08, 0.13, 0.09, 0.14, 0.1]
d28 = [0.15, 0.25, 0.2, 0.08, -0.02, -0.08, -0.04, 0.05, 0.12, 0.2, 0.28, 0.32, 0.39]
d29 = [0.15, 0.25, 0.22, 0.1, 0.0, -0.04, 0.02, 0.08, 0.04, 0.1, 0.06, 0.12, 0.08, 0.04, 0.09, 0.05, 0.1, 0.06, 0.02, 0.07, 0.03, 0.08, 0.04, 0.09, 0.05, 0.1, 0.06, 0.11, 0.07, 0.03, 0.08, 0.04, 0.09, 0.05, 0.1, 0.06, 0.12, 0.08, 0.16, 0.06, 0.12, 0.18, 0.08, 0.15, 0.05, 0.12, 0.2, 0.1, 0.16, 0.06, 0.14, 0.22, 0.1, 0.18, 0.12]

PANEL_A = [("c", a12), ("r", a14), ("p", a13), ("g", a22), ("b", a11), ("y", a16), ("b", a01),
           ("g", a15), ("p", a10), ("p", a20), ("c", a09), ("y", a19), ("r", a08), ("g", a17),
           ("b", a23), ("r", a24), ("g", a25), ("p", a26), ("y", a27), ("c", a28), ("b", a29),
           ("r", a30), ("g", a31), ("p", a32),
           ("p", a07), ("c", a21), ("b", a18), ("b", a06), ("g", a02), ("r", a05), ("r", a03), ("y", a04)]
PANEL_B = [("r", b18), ("g", b07), ("g", b13), ("y", b08), ("p", b09), ("y", b16), ("b", b10),
           ("b", b11), ("r", b12), ("c", b14), ("g", b17), ("p", b15),
           ("c", b19), ("p", b20), ("r", b21), ("b", b22), ("g", b23), ("y", b24), ("c", b25), ("b", b26),
           ("p", b06), ("b", b05), ("g", b03), ("r", b04), ("r", b02), ("y", b01)]
PANEL_C = [("g", c13), ("y", c09), ("b", c12), ("p", c14), ("c", c16), ("r", c15), ("g", c08),
           ("y", c07), ("b", c17), ("r", c10), ("b", c18), ("c", c06),
           ("r", c19), ("b", c20), ("g", c21), ("c", c22), ("p", c23), ("y", c24), ("r", c25),
           ("b", c26), ("g", c27),
           ("p", c11), ("b", c05), ("g", c04), ("r", c03), ("r", c02), ("y", c01)]
PANEL_D = [("r", d12), ("g", d11), ("p", d13), ("b", d10), ("b", d09), ("g", d14), ("p", d16),
           ("c", d15), ("y", d18), ("g", d19), ("b", d20),
           ("r", d21), ("c", d22), ("g", d23), ("y", d24), ("b", d25), ("p", d26), ("r", d27),
           ("g", d28), ("p", d29),
           ("p", d08), ("c", d06), ("p", d07),
           ("b", d05), ("r", d17), ("g", d04), ("r", d03), ("r", d01), ("y", d02)]

W, H = 1108, 693
Y_RANGE = [-0.218, 0.623]
# pixel boxes (left, right, top, bottom) and x ranges of the four axes
BOXES = [(51.0, 505.5, 22.1, 250.6), (655.0, 1108.0, 22.1, 250.6),
         (56.6, 511.2, 390.5, 618.9), (649.0, 1108.0, 390.5, 618.9)]
X_RANGES = [[-24.85, 521.85], [-24.85, 519.6], [-24.85, 521.85], [-24.85, 525.5]]
PANELS = [PANEL_A, PANEL_B, PANEL_C, PANEL_D]
TITLE_POS = [(278, 14), (882, 14), (283, 382), (877, 382)]
CAP_POS = [(280, 306), (877, 306), (280, 673), (874, 673)]

TEXT = "#262626"
SANS = "Liberation Sans, Arial"
fig = go.Figure()
layout = dict(width=W, height=H, margin=dict(l=0, r=0, t=0, b=0),
              paper_bgcolor="white", plot_bgcolor="#EAEAF2", showlegend=False)
annotations = []


def px_x(px):
    return px / W


def px_y(py):
    return 1 - py / H


for i, (panel, box, xr) in enumerate(zip(PANELS, BOXES, X_RANGES)):
    n = i + 1
    xs = "" if n == 1 else str(n)
    for col, vals in panel:
        fig.add_trace(go.Scatter(x=[k * STEP for k in range(len(vals))], y=vals, mode="lines",
                                 line=dict(color=PALETTE[col], width=1.35),
                                 xaxis="x" + xs, yaxis="y" + xs, hoverinfo="skip"))
    l, r, t, b = box
    layout["xaxis" + xs] = dict(domain=[px_x(l), px_x(r)], range=xr, anchor="y" + xs,
                                tickvals=X_TICKS, showgrid=True, gridcolor="white", gridwidth=1.2,
                                zeroline=False, showline=False, ticks="outside", ticklen=3,
                                tickcolor="rgba(0,0,0,0)", automargin=False,
                                tickfont=dict(family=SANS, size=11, color=TEXT),
                                title=dict(text=X_LABEL, standoff=2,
                                           font=dict(family=SANS, size=13, color=TEXT)))
    layout["yaxis" + xs] = dict(domain=[px_y(b), px_y(t)], range=Y_RANGE, anchor="x" + xs,
                                tickvals=Y_TICKS, tickformat=".1f", showgrid=True, gridcolor="white",
                                gridwidth=1.2, zeroline=False, showline=False, ticks="outside",
                                ticklen=4, tickcolor="rgba(0,0,0,0)", automargin=False,
                                tickfont=dict(family=SANS, size=11, color=TEXT),
                                title=dict(text=Y_LABEL, standoff=3,
                                           font=dict(family=SANS, size=13, color=TEXT)))
    tx, ty = TITLE_POS[i]
    annotations.append(dict(text=TITLE, x=px_x(tx), y=px_y(ty), xref="paper", yref="paper",
                            showarrow=False, xanchor="center", yanchor="middle",
                            font=dict(family=SANS, size=11, color=TEXT)))
    cx, cy = CAP_POS[i]
    annotations.append(dict(text=CAPTIONS[i], x=px_x(cx), y=px_y(cy), xref="paper", yref="paper",
                            showarrow=False, xanchor="center", yanchor="middle",
                            font=dict(family="Liberation Serif, Times New Roman, serif", size=28,
                                      color="black")))

layout["annotations"] = annotations
fig.update_layout(**layout)
fig.write_html("out.html")
